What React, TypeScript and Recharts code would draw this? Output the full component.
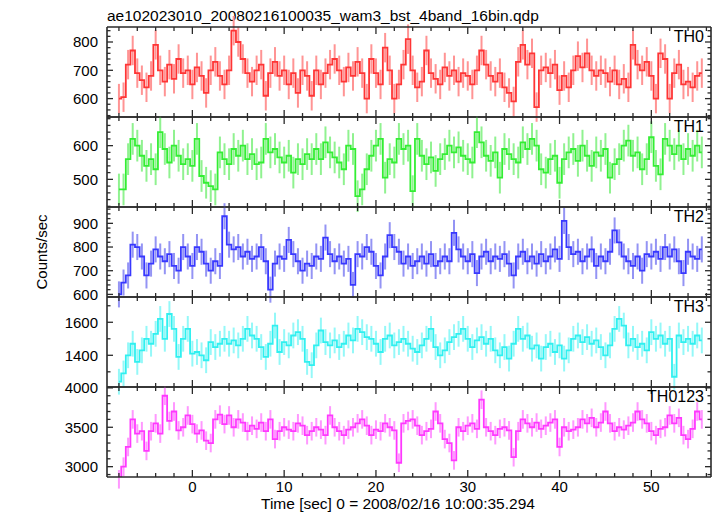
import { ComposedChart, Line, XAxis, YAxis, ErrorBar } from 'recharts'

const FONT = '"Liberation Sans", Arial, Helvetica, sans-serif'
const FRAME = '#2a2a2a'

// 0.5 s bins starting at -8 s
const T0 = -8
const BIN = 0.5

const th0 = [
  600, 605, 720, 770, 690, 665, 640, 680, 790, 700, 660, 720, 670, 740, 690, 700,
  650, 710, 680, 620, 700, 730, 680, 650, 700, 840, 800, 740, 690, 660, 700, 720,
  610, 690, 730, 680, 700, 650, 690, 620, 700, 680, 610, 700, 650, 690, 720, 740,
  700, 660, 710, 680, 730, 690, 600, 740, 690, 650, 780, 700, 600, 650, 720, 810,
  700, 640, 660, 770, 690, 670, 650, 710, 680, 700, 660, 690, 680, 650, 700, 770,
  720, 680, 660, 690, 640, 620, 590, 730, 790, 720, 760, 570, 700, 710, 690, 720,
  630, 680, 640, 700, 750, 710, 760, 700, 680, 700, 690, 660, 700, 650, 670, 640,
  790, 720, 700, 730, 680, 600, 760, 740, 600, 690, 720, 650, 660, 640, 680, 690,
]

const th1 = [
  470, 470, 560, 620, 600, 570, 540, 560, 530, 640, 590, 550, 600, 570, 545, 560,
  540, 620, 510, 490, 480, 470, 580, 560, 545, 590, 570, 600, 560, 575, 545, 550,
  620, 580, 590, 565, 550, 570, 520, 560, 545, 575, 560, 590, 560, 610, 580, 565,
  550, 530, 600, 590, 450, 470, 530, 570, 600, 620, 505, 560, 550, 620, 590, 600,
  465, 620, 570, 545, 565, 525, 560, 575, 600, 580, 595, 570, 560, 550, 640, 610,
  570, 555, 580, 505, 590, 575, 560, 550, 610, 590, 620, 600, 530, 520, 560, 570,
  490, 560, 580, 590, 555, 600, 570, 540, 580, 570, 590, 505, 545, 560, 600, 615,
  570, 580, 530, 560, 625, 540, 515, 620, 600, 575, 600, 560, 590, 570, 600, 580,
]

const th2 = [
  600, 650, 680, 810, 800, 760, 680, 730, 790, 760, 740, 770, 720, 700, 800, 760,
  720, 800, 780, 730, 700, 740, 720, 930, 810, 790, 800, 760, 780, 750, 760, 800,
  740, 620, 730, 760, 750, 830, 770, 740, 700, 730, 720, 760, 750, 840, 770, 740,
  760, 730, 750, 640, 770, 760, 800, 780, 720, 680, 760, 850, 800, 780, 730, 760,
  720, 740, 760, 730, 770, 720, 740, 760, 740, 860, 790, 760, 740, 770, 690, 760,
  780, 740, 760, 750, 770, 730, 680, 760, 780, 740, 760, 730, 770, 740, 760, 790,
  750, 910, 800, 770, 780, 740, 760, 790, 720, 760, 740, 780, 870, 820, 760, 740,
  720, 760, 700, 770, 760, 780, 750, 800, 760, 790, 740, 690, 780, 760, 750, 790,
]

const th3 = [
  1240, 1290, 1400, 1470, 1360, 1430, 1500, 1470, 1530, 1620, 1500, 1650, 1560, 1390, 1500, 1560,
  1410, 1420, 1400, 1370, 1480, 1450, 1470, 1500, 1470, 1490, 1460, 1500, 1560, 1520, 1500, 1450,
  1390, 1470, 1580, 1420, 1480, 1460, 1520, 1540, 1500, 1360, 1340, 1460, 1550, 1480, 1460, 1490,
  1450, 1470, 1520, 1490, 1560, 1540, 1510, 1500, 1470, 1420, 1500, 1520, 1460, 1480, 1500, 1470,
  1440, 1420, 1460, 1500, 1560, 1450, 1400, 1430, 1480, 1510, 1530, 1560, 1500, 1450, 1490, 1510,
  1470, 1500, 1430, 1400, 1450, 1380, 1470, 1560, 1500, 1520, 1440, 1460, 1380, 1450, 1470, 1420,
  1460, 1380, 1430, 1500, 1520, 1480, 1510, 1470, 1490, 1450, 1400, 1460, 1560, 1620, 1580, 1460,
  1500, 1450, 1470, 1430, 1540, 1500, 1520, 1470, 1500, 1270, 1520, 1480, 1500, 1470, 1520, 1490,
]

const th0123 = [
  2840, 3000, 3250, 3600, 3420, 3450, 3200, 3450, 3550, 3420, 3900, 3580, 3700, 3460, 3500, 3650,
  3540, 3420, 3460, 3330, 3300, 3600, 3660, 3540, 3650, 3500, 3600, 3560, 3450, 3520, 3480, 3560,
  3450, 3600, 3350, 3450, 3500, 3470, 3450, 3550, 3520, 3400, 3450, 3500, 3470, 3400, 3650, 3500,
  3450, 3400, 3470, 3500, 3550, 3600, 3520, 3400, 3470, 3450, 3550, 3500, 3460, 3050, 3550, 3580,
  3600, 3520, 3400, 3450, 3480, 3700, 3550, 3350, 3300, 3080, 3500, 3450, 3520, 3550, 3480, 3850,
  3500, 3450, 3400, 3480, 3500, 3460, 3120, 3450, 3600, 3550, 3500, 3560, 3480, 3520, 3560, 3600,
  3250, 3500, 3450, 3470, 3500, 3600, 3550, 3620, 3500, 3560, 3700, 3550, 3450, 3500, 3470, 3520,
  3560, 3700, 3600, 3550, 3450, 3400, 3480, 3500, 3650, 3550, 3620, 3400, 3350, 3480, 3700, 3600,
]

// 1-sigma error of each bin, per band
const errTH0 = 52
const errTH1 = 47
const errTH2 = 55
const errTH3 = 78
const errTH0123 = 118

const xDomain = [-9.3, 56.5]
const xMajor = [0, 10, 20, 30, 40, 50]
const xMinor = [-8, -6, -4, -2, 2, 4, 6, 8, 12, 14, 16, 18, 22, 24, 26, 28, 32, 34, 36, 38, 42, 44, 46, 48, 52, 54, 56]

const panels = [
  {
    name: 'TH0', values: th0, err: errTH0, domain: [535, 853], color: '#ff3535', light: '#ff9494',
    major: [600, 700, 800], minor: [540, 560, 580, 620, 640, 660, 680, 720, 740, 760, 780, 820, 840],
  },
  {
    name: 'TH1', values: th1, err: errTH1, domain: [418, 685], color: '#33ee33', light: '#90f290',
    major: [500, 600], minor: [420, 440, 460, 480, 520, 540, 560, 580, 620, 640, 660, 680],
  },
  {
    name: 'TH2', values: th2, err: errTH2, domain: [589, 969], color: '#3838ff', light: '#9494f4',
    major: [600, 700, 800, 900], minor: [620, 640, 660, 680, 720, 740, 760, 780, 820, 840, 860, 880, 920, 940, 960],
  },
  {
    name: 'TH3', values: th3, err: errTH3, domain: [1208, 1753], color: '#30f0f0', light: '#94f8f8',
    major: [1400, 1600], minor: [1300, 1500, 1700],
  },
  {
    name: 'TH0123', values: th0123, err: errTH0123, domain: [2869, 4011], color: '#ff38ff', light: '#ff98ff',
    major: [3000, 3500, 4000], minor: [2900, 3100, 3200, 3300, 3400, 3600, 3700, 3800, 3900],
  },
]

const W = 717
const PLOT_LEFT = 107
const PLOT_RIGHT = 711
const PANEL_TOP = 27
const PANEL_H = 90
const PAD = 24
const AX = 1 // axis thickness reserved by recharts

const xTick = (side: 'top' | 'bottom', labels: boolean) => (props: any) => {
  const { x, y, payload } = props
  const major = xMajor.includes(payload.value)
  const len = major ? 7 : 4
  const dir = side === 'bottom' ? -1 : 1
  return (
    <g>
      <line x1={x} x2={x} y1={y} y2={y + dir * len} stroke={FRAME} strokeWidth={1.3} />
      {labels && major && (
        <text x={x} y={y + 14.5} textAnchor="middle" fontSize={15} fontFamily={FONT} fill="#000">
          {payload.value}
        </text>
      )}
    </g>
  )
}

const yTick = (side: 'left' | 'right', major: number[]) => (props: any) => {
  const { x, y, payload } = props
  const isMajor = major.includes(payload.value)
  const len = isMajor ? 6 : 3.5
  const dir = side === 'left' ? 1 : -1
  return (
    <g>
      <line x1={x} x2={x + dir * len} y1={y} y2={y} stroke={FRAME} strokeWidth={1.3} />
      {side === 'left' && isMajor && (
        <text x={x - 9} y={y + 5.3} textAnchor="end" fontSize={15} fontFamily={FONT} fill="#000">
          {payload.value}
        </text>
      )}
    </g>
  )
}

function Panel({ p, index, last }: { p: any; index: number; last: boolean }) {
  const data = p.values.map((v: number, i: number) => ({ t: T0 + BIN * i, v, e: p.err }))
  const top = PANEL_TOP + index * PANEL_H
  const yTicks = [...p.minor, ...p.major].sort((a, b) => a - b)
  const xTicks = [...xMinor, ...xMajor].sort((a, b) => a - b)
  const axisLine = { stroke: FRAME, strokeWidth: 1.6 }
  return (
    <>
      <div style={{ position: 'absolute', left: 0, top: top - PAD }}>
        <ComposedChart
          width={W}
          height={PANEL_H + 2 * PAD}
          data={data}
          margin={{ top: PAD - AX, bottom: PAD - AX, left: PLOT_LEFT - AX, right: W - PLOT_RIGHT - AX }}
        >
          <XAxis
            xAxisId="b" orientation="bottom" dataKey="t" type="number" domain={xDomain} allowDataOverflow
            ticks={xTicks} interval={0} height={AX} tickSize={0} tickMargin={0} tickLine={false}
            axisLine={axisLine} tick={xTick('bottom', last)}
          />
          <XAxis
            xAxisId="t" orientation="top" dataKey="t" type="number" domain={xDomain} allowDataOverflow
            ticks={xTicks} interval={0} height={AX} tickSize={0} tickMargin={0} tickLine={false}
            axisLine={axisLine} tick={xTick('top', false)}
          />
          <YAxis
            yAxisId="l" orientation="left" type="number" domain={p.domain} allowDataOverflow
            ticks={yTicks} interval={0} width={AX} tickSize={0} tickMargin={0} tickLine={false}
            axisLine={axisLine} tick={yTick('left', p.major)}
          />
          <YAxis
            yAxisId="r" orientation="right" type="number" domain={p.domain} allowDataOverflow
            ticks={yTicks} interval={0} width={AX} tickSize={0} tickMargin={0} tickLine={false}
            axisLine={axisLine} tick={yTick('right', p.major)}
          />
          <Line
            xAxisId="b" yAxisId="l" dataKey="v" name="err" type="step" stroke="none"
            dot={false} activeDot={false} isAnimationActive={false}
          >
            <ErrorBar dataKey="e" width={0} stroke={p.light} strokeWidth={2} direction="y" />
          </Line>
          <Line
            xAxisId="b" yAxisId="l" dataKey="v" name={p.name} type="step" stroke={p.color}
            strokeWidth={1.8} dot={false} activeDot={false} isAnimationActive={false}
          />
        </ComposedChart>
      </div>
      <div
        style={{
          position: 'absolute', right: W - 704, top: top + 2, fontSize: 16, lineHeight: '16px',
          fontFamily: FONT, color: '#000',
        }}
      >
        {p.name}
      </div>
    </>
  )
}

export default function App() {
  return (
    <div style={{ position: 'absolute', left: 0, top: 0, width: W, height: 516, background: '#fff', fontFamily: FONT }}>
      <div style={{ position: 'absolute', left: 107, top: 8, fontSize: 15.5, lineHeight: '15px', color: '#000', whiteSpace: 'nowrap' }}>
        ae102023010_20080216100035_wam3_bst_4band_16bin.qdp
      </div>
      {panels.map((p, i) => (
        <Panel key={p.name} p={p} index={i} last={i === panels.length - 1} />
      ))}
      <div
        style={{
          position: 'absolute', left: 41, top: 252, fontSize: 15, lineHeight: '15px', color: '#000',
          whiteSpace: 'nowrap', transform: 'translate(-50%, -50%) rotate(-90deg)',
        }}
      >
        Counts/sec
      </div>
      <div style={{ position: 'absolute', left: 261, top: 496, fontSize: 15.5, lineHeight: '15px', color: '#000', whiteSpace: 'nowrap' }}>
        Time [sec] 0 = 2008/02/16 10:00:35.294
      </div>
    </div>
  )
}
